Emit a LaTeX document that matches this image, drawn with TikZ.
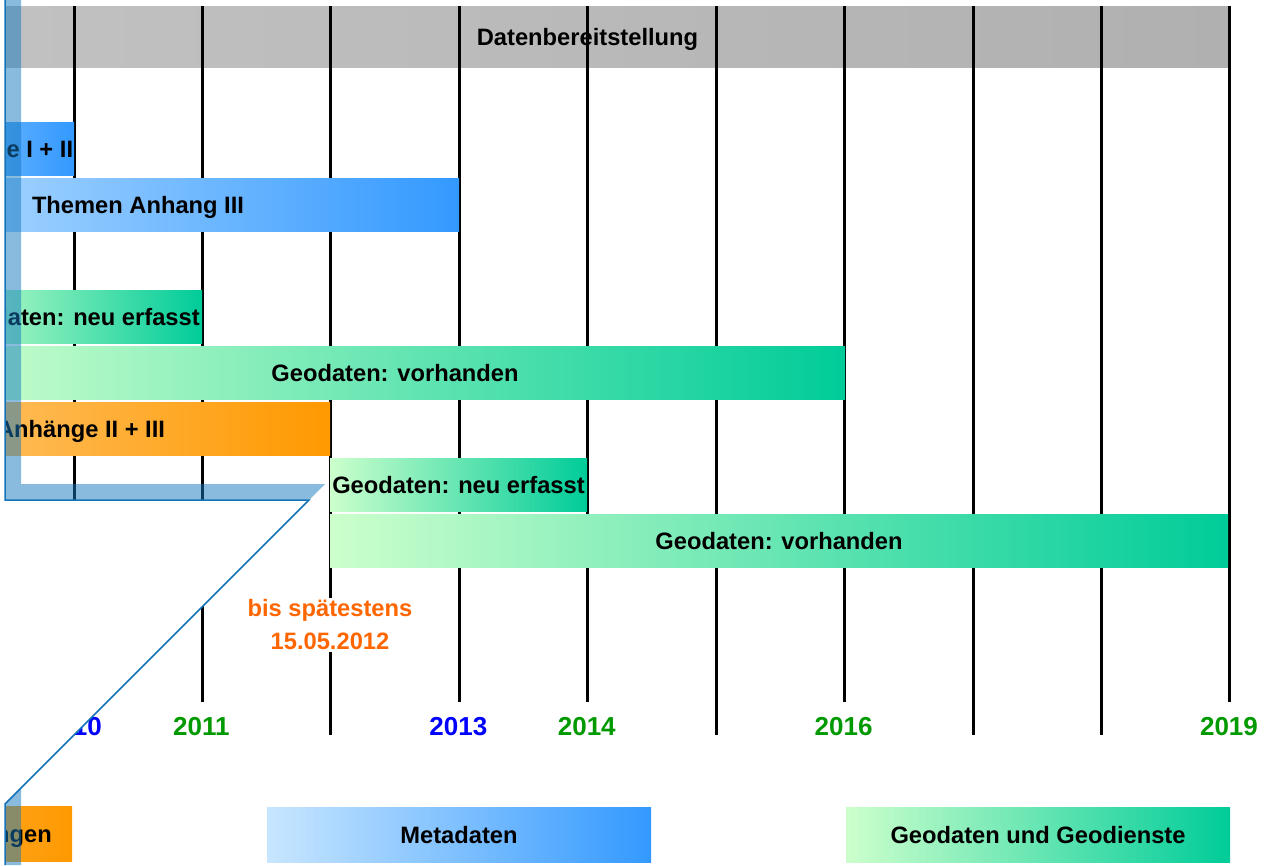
\documentclass[tikz,border=0pt]{standalone}
\usepackage{fontspec}
\setmainfont{Liberation Sans}
\definecolor{metahell}{RGB}{200,230,255}
\definecolor{metadunkel}{RGB}{51,153,255}
\definecolor{geohell}{RGB}{204,255,204}
\definecolor{geodunkel}{RGB}{0,204,153}
\definecolor{dbhell}{RGB}{255,204,128}
\definecolor{dbdunkel}{RGB}{255,153,0}
\definecolor{grauhell}{RGB}{194,194,194}
\definecolor{graudunkel}{RGB}{176,176,176}
\definecolor{jahrblau}{RGB}{0,0,255}
\definecolor{jahrgruen}{RGB}{0,153,0}
\definecolor{frist}{RGB}{255,102,0}
\definecolor{lupe}{RGB}{20,120,190}
\definecolor{lupenrand}{RGB}{20,115,185}
\begin{document}
\begin{tikzpicture}[x=1pt,y=-1pt,
	balken/.style={inner sep=0pt,minimum height=53pt,text depth=0pt,font=\bfseries\fontsize{23.7}{28}\selectfont},
	meta/.style={balken,left color=metahell,right color=metadunkel},
	geo/.style={balken,left color=geohell,right color=geodunkel},
	db/.style={balken,left color=dbhell,right color=dbdunkel},
	legende/.style={minimum height=55pt},
	jahr/.style={font=\bfseries\fontsize{26}{30}\selectfont},
	jahrlinie/.style={line width=3pt,black}]
	\useasboundingbox (0,0) rectangle (1268,865);
	\begin{scope}
	\clip (5,0) rectangle (1268,865);
	% Datenbereitstellung
	\node[balken,minimum height=61pt,minimum width=1285pt,left color=grauhell,right color=graudunkel] (daten) at (587.5,36.5) {Datenbereitstellung};
	% Jahreslinien
	\foreach \j/\ende in {2010/702,2011/702,2012/735,2013/702,2014/702,2015/735,2016/702,2017/735,2018/735,2019/702}
		\draw[jahrlinie] ({74+(\j-2010)*128.44},6) -- ({74+(\j-2010)*128.44},\ende);
	% Metadaten
	\node[meta,minimum width=254pt] (metaI) at (-53,148.5) {Themen Anhänge I + II};
	\node[meta,minimum width=642pt] (metaIII) at (138,204.5) {Themen Anhang III};
	% Geodaten Anhang I
	\node[geo,minimum width=257pt] (neuA) at (73.5,316.5) {Geodaten: neu erfasst};
	\node[geo,minimum width=900pt] (vorA) at (395,372.5) {Geodaten: vorhanden};
	% Durchfuehrungsbestimmungen
	\node[db,minimum width=498pt] (anhang) at (81,428.5) {Anhänge II + III};
	% Geodaten Anhang II + III
	\node[geo,minimum width=257pt] (neuB) at (458.5,484.5) {Geodaten: neu erfasst};
	\node[geo,minimum width=898pt] (vorB) at (779,540.5) {Geodaten: vorhanden};
	% Frist
	\node[fill=white,inner sep=2pt,align=center,text=frist,font=\bfseries\fontsize{23.7}{33}\selectfont] (frist) at (330,625) {bis spätestens\\15.05.2012};
	% Jahre
	\foreach \j/\farbe in {2010/jahrblau,2011/jahrgruen,2013/jahrblau,2014/jahrgruen,2016/jahrgruen,2019/jahrgruen}
		\node[jahr,text=\farbe] (j\j) at ({74+(\j-2010)*128.44-1},727) {\j};
	% Legende
	\node[db,legende,minimum width=384pt] (legDB) at (-120,833.5) {\hspace*{4pt}Durchführungsbestimmungen};
	\node[meta,legende,minimum width=384pt] (legMeta) at (459,834.5) {Metadaten};
	\node[geo,legende,minimum width=384pt] (legGeo) at (1038,834.5) {Geodaten und Geodienste};
	\fill[white] (5,500) -- (309,500) -- (5,804) -- cycle;
	\end{scope}
	% Lupe
	\fill[lupe,opacity=.5] (5,0) -- (5,500) -- (309,500) -- (325,484) -- (21,484) -- (21,0) -- cycle;
	\fill[lupe,opacity=.5] (5,804) -- (21,788) -- (21,865) -- (5,865) -- cycle;
	\draw[lupenrand,line width=1.5pt] (5,0) -- (5,500) -- (309,500) -- (5,804) -- (5,865);
\end{tikzpicture}
\end{document}
